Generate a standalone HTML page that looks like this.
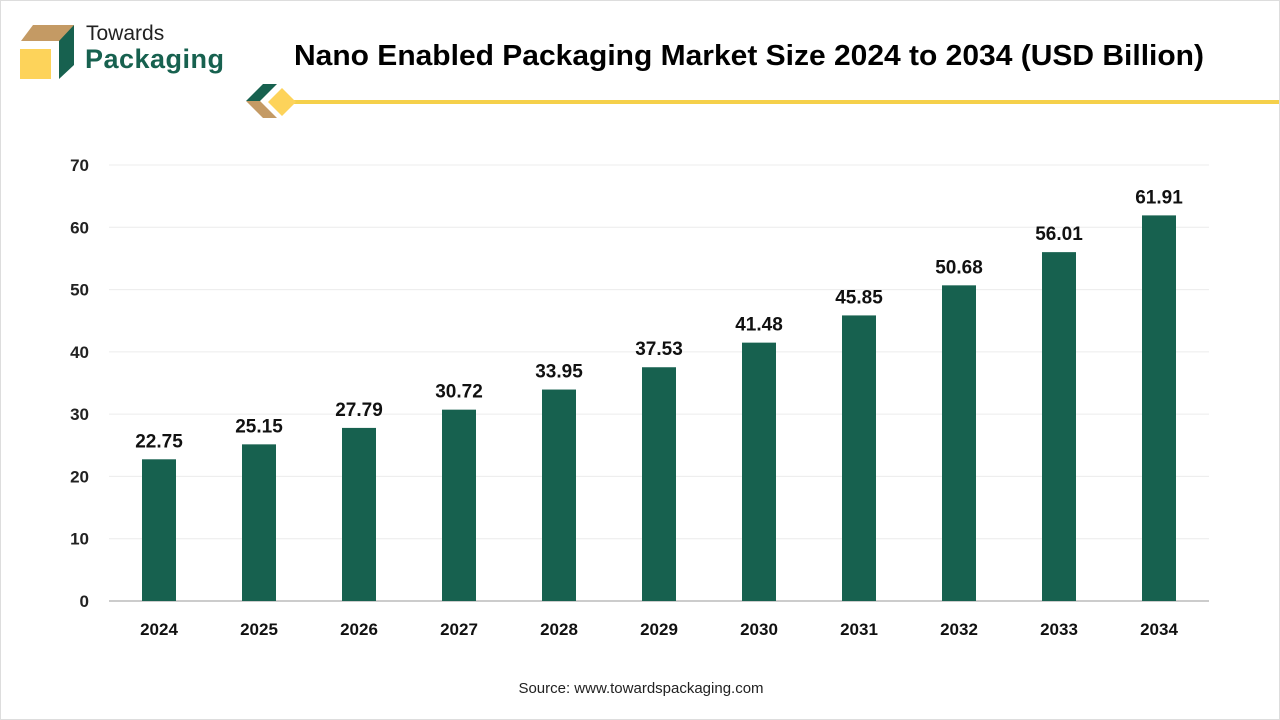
<!DOCTYPE html>
<html><head><meta charset="utf-8"><style>
body{margin:0;background:#fff;}
#c{position:relative;width:1280px;height:720px;overflow:hidden;font-family:"Liberation Sans",sans-serif;box-sizing:border-box;border:1px solid #ddd;}
</style></head><body>
<div id="c">
<svg width="1280" height="720" style="position:absolute;left:0;top:0">
<g>
<polygon points="20,40 32,24 73,24 61,40" fill="#c49a64"/>
<rect x="19" y="48" width="31" height="30" fill="#fdd35a"/>
<polygon points="58,40 73,24 73,64 58,78" fill="#17614f"/>
<text x="85" y="39" font-size="21" fill="#222">Towards</text>
<text x="84" y="67" font-size="27" font-weight="bold" fill="#17614f" textLength="139">Packaging</text>
</g>
<text x="748" y="64" font-size="29" font-weight="bold" text-anchor="middle" fill="#000" textLength="910" lengthAdjust="spacingAndGlyphs">Nano Enabled Packaging Market Size 2024 to 2034 (USD Billion)</text>
<g>
<rect x="288" y="99" width="992" height="4" fill="#f5d04a"/>
<polygon points="245,100 262,83 276,83 259,100" fill="#17614f"/>
<polygon points="245,100 262,117 276,117 259,100" fill="#c49a64"/>
<polygon points="281,87 295,101 281,115 267,101" fill="#fdd35a"/>
</g>
<g id="plot"></g>
<text x="640" y="692" font-size="15" text-anchor="middle" fill="#222">Source: www.towardspackaging.com</text>
</svg>
</div>
<script>
const categories=["2024","2025","2026","2027","2028","2029","2030","2031","2032","2033","2034"];
const values=[22.75,25.15,27.79,30.72,33.95,37.53,41.48,45.85,50.68,56.01,61.91];
const valueLabels=["22.75","25.15","27.79","30.72","33.95","37.53","41.48","45.85","50.68","56.01","61.91"];
const yTicks=[0,10,20,30,40,50,60,70];
const NS="http://www.w3.org/2000/svg";
const g=document.getElementById('plot');
const y0=600,yTop=164,yMax=70,x0=108,x1=1208;
const y=v=>y0-(v/yMax)*(y0-yTop);
const step=(x1-x0)/categories.length;
const x=i=>x0+step*(i+0.5);
function mk(t,a){const e=document.createElementNS(NS,t);for(const k in a)e.setAttribute(k,a[k]);g.appendChild(e);return e;}
yTicks.forEach(t=>{
 if(t>0){const l=mk('line',{x1:x0,x2:x1,y1:y(t),y2:y(t),stroke:'#ececec','stroke-width':1});
 
 }
 const tx=mk('text',{x:88,y:y(t)+6,'font-size':17,'font-weight':'bold','text-anchor':'end',fill:'#222'});
 tx.textContent=t;
 
 
});
const ax=mk('line',{x1:x0,x2:x1,y1:y0,y2:y0,stroke:'#bbb','stroke-width':1.5});


categories.forEach((c,i)=>{
 const bw=34;
 const r=mk('rect',{x:x(i)-bw/2,y:y(values[i]),width:bw,height:y0-y(values[i]),fill:'#17614f'});
 
 
 const vl=mk('text',{x:x(i),y:y(values[i])-12,'font-size':19,'font-weight':'bold','text-anchor':'middle',fill:'#111'});
 vl.textContent=valueLabels[i];
 
 
 const xl=mk('text',{x:x(i),y:634,'font-size':17,'font-weight':'bold','text-anchor':'middle',fill:'#111'});
 xl.textContent=c;
 
 
});
</script>
</body></html>
